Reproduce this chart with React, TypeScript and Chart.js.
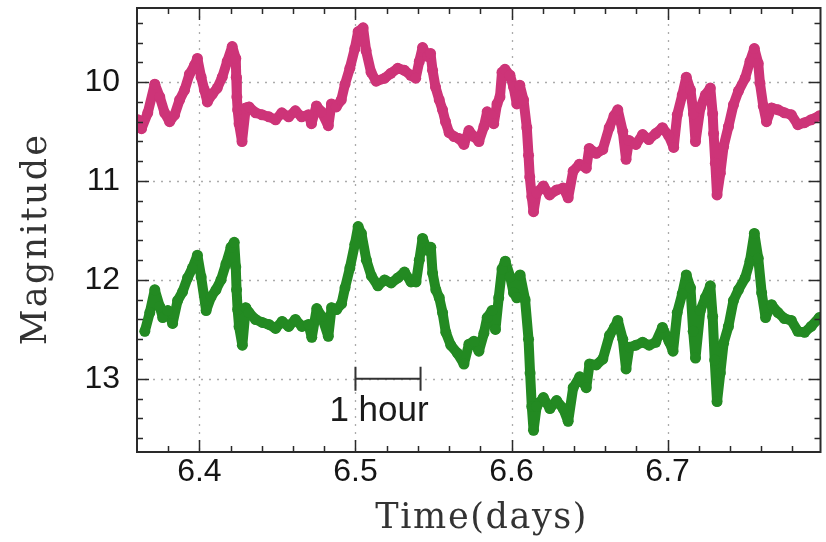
import { useEffect, useRef } from 'react';
import { Chart, registerables } from 'chart.js';

Chart.register(...registerables);

// ---- data (time in days, magnitude) ----
const pinkTime = [
  6.3605, 6.3629, 6.3669, 6.3714, 6.3746, 6.3777, 6.3809, 6.3841, 6.3873, 6.3905,
  6.3936, 6.3968, 6.3987, 6.4011, 6.4032, 6.4051, 6.4083, 6.4114, 6.4146, 6.4178,
  6.4210, 6.4233, 6.4236, 6.4240, 6.4245, 6.4254, 6.4273, 6.4297, 6.4318, 6.4360,
  6.4401, 6.4445, 6.4488, 6.4528, 6.4572, 6.4615, 6.4655, 6.4699, 6.4718, 6.4750,
  6.4782, 6.4826, 6.4846, 6.4877, 6.4909, 6.4933, 6.4964, 6.4996, 6.5017, 6.5049,
  6.5068, 6.5100, 6.5132, 6.5187, 6.5227, 6.5271, 6.5314, 6.5354, 6.5386, 6.5409,
  6.5430, 6.5462, 6.5481, 6.5494, 6.5513, 6.5537, 6.5558, 6.5577, 6.5600, 6.5632,
  6.5664, 6.5695, 6.5727, 6.5759, 6.5791, 6.5823, 6.5844, 6.5875, 6.5886, 6.5907,
  6.5926, 6.5939, 6.5958, 6.5990, 6.6013, 6.6034, 6.6053, 6.6077, 6.6098, 6.6109,
  6.6117, 6.6130, 6.6141, 6.6161, 6.6204, 6.6244, 6.6289, 6.6331, 6.6363, 6.6395,
  6.6435, 6.6479, 6.6498, 6.6543, 6.6585, 6.6626, 6.6657, 6.6681, 6.6713, 6.6734,
  6.6753, 6.6797, 6.6840, 6.6880, 6.6924, 6.6967, 6.7007, 6.7039, 6.7062, 6.7094,
  6.7120, 6.7147, 6.7166, 6.7179, 6.7210, 6.7242, 6.7274, 6.7289, 6.7295, 6.7306,
  6.7317, 6.7338, 6.7359, 6.7390, 6.7422, 6.7454, 6.7497, 6.7528, 6.7556, 6.7581,
  6.7592, 6.7613, 6.7634, 6.7666, 6.7708, 6.7749, 6.7793, 6.7835, 6.7878, 6.7920,
  6.7973,
];
const pinkMag = [
  10.38, 10.47, 10.31, 10.02, 10.15, 10.31, 10.40, 10.33, 10.18, 10.08,
  9.92, 9.83, 9.76, 9.95, 10.08, 10.20, 10.12, 10.06, 9.95, 9.79,
  9.64, 9.76, 9.95, 10.15, 10.28, 10.42, 10.60, 10.26, 10.25, 10.31,
  10.33, 10.35, 10.38, 10.31, 10.35, 10.29, 10.35, 10.33, 10.42, 10.24,
  10.30, 10.44, 10.22, 10.25, 10.18, 10.02, 9.86, 9.66, 9.49, 9.45,
  9.68, 9.90, 9.99, 9.96, 9.91, 9.86, 9.88, 9.93, 9.96, 9.79,
  9.65, 9.74, 9.71, 9.88, 10.05, 10.18, 10.28, 10.40, 10.51, 10.55,
  10.57, 10.63, 10.49, 10.55, 10.60, 10.45, 10.30, 10.34, 10.42, 10.22,
  10.15, 9.90, 9.87, 9.93, 10.05, 10.22, 10.03, 10.18, 10.46, 10.74,
  10.96, 11.16, 11.31, 11.12, 11.05, 11.14, 11.09, 11.07, 11.17, 10.90,
  10.83, 10.87, 10.67, 10.72, 10.68, 10.46, 10.34, 10.28, 10.50, 10.78,
  10.59, 10.63, 10.53, 10.58, 10.52, 10.46, 10.54, 10.66, 10.33, 10.13,
  9.95, 10.08, 10.32, 10.60, 10.26, 10.13, 10.06, 10.32, 10.52, 10.82,
  11.14, 10.92, 10.65, 10.45, 10.23, 10.09, 9.96, 9.79, 9.66, 9.81,
  10.01, 10.24, 10.40, 10.26, 10.28, 10.31, 10.33, 10.43, 10.41, 10.38,
  10.34,
];

const greenTime = [
  6.3650, 6.3682, 6.3714, 6.3746, 6.3765, 6.3797, 6.3828, 6.3860, 6.3892, 6.3924,
  6.3955, 6.3987, 6.4011, 6.4043, 6.4075, 6.4106, 6.4138, 6.4170, 6.4202, 6.4223,
  6.4233, 6.4238, 6.4245, 6.4254, 6.4275, 6.4297, 6.4318, 6.4360, 6.4403, 6.4445,
  6.4488, 6.4530, 6.4572, 6.4615, 6.4657, 6.4699, 6.4720, 6.4752, 6.4784, 6.4826,
  6.4847, 6.4879, 6.4911, 6.4933, 6.4964, 6.4996, 6.5017, 6.5038, 6.5070, 6.5102,
  6.5144, 6.5187, 6.5229, 6.5271, 6.5314, 6.5356, 6.5388, 6.5409, 6.5430, 6.5462,
  6.5483, 6.5494, 6.5515, 6.5537, 6.5558, 6.5579, 6.5611, 6.5653, 6.5695, 6.5727,
  6.5759, 6.5791, 6.5823, 6.5844, 6.5875, 6.5897, 6.5918, 6.5939, 6.5960, 6.5992,
  6.6013, 6.6034, 6.6055, 6.6087, 6.6109, 6.6119, 6.6130, 6.6141, 6.6161, 6.6204,
  6.6246, 6.6289, 6.6331, 6.6363, 6.6395, 6.6437, 6.6479, 6.6500, 6.6543, 6.6585,
  6.6628, 6.6659, 6.6681, 6.6713, 6.6734, 6.6755, 6.6797, 6.6840, 6.6882, 6.6924,
  6.6967, 6.7009, 6.7035, 6.7062, 6.7094, 6.7120, 6.7147, 6.7164, 6.7179, 6.7210,
  6.7242, 6.7274, 6.7289, 6.7302, 6.7317, 6.7338, 6.7359, 6.7390, 6.7422, 6.7454,
  6.7497, 6.7528, 6.7556, 6.7581, 6.7603, 6.7628, 6.7666, 6.7708, 6.7749, 6.7793,
  6.7835, 6.7878, 6.7920, 6.7973,
];
const greenMag = [
  12.52, 12.33, 12.10, 12.27, 12.38, 12.31, 12.44, 12.21, 12.12, 11.98,
  11.88, 11.75, 11.97, 12.31, 12.17, 12.10, 12.00, 11.84, 11.67, 11.62,
  11.87, 12.10, 12.30, 12.47, 12.66, 12.28, 12.33, 12.40, 12.43, 12.45,
  12.49, 12.42, 12.47, 12.40, 12.47, 12.45, 12.58, 12.29, 12.37, 12.57,
  12.28, 12.30, 12.24, 12.08, 11.88, 11.64, 11.46, 11.53, 11.80, 11.96,
  12.06, 12.00, 12.03, 11.98, 11.92, 12.02, 12.02, 11.80, 11.58, 11.70,
  11.67, 11.93, 12.10, 12.18, 12.33, 12.53, 12.66, 12.74, 12.85, 12.65,
  12.62, 12.72, 12.54, 12.38, 12.31, 12.50, 12.18, 11.89, 11.81, 11.97,
  12.13, 12.18, 11.95, 12.20, 12.60, 12.94, 13.28, 13.52, 13.28, 13.19,
  13.30, 13.22, 13.30, 13.43, 13.09, 12.98, 13.09, 12.85, 12.86, 12.80,
  12.56, 12.48, 12.41, 12.60, 12.90, 12.68, 12.66, 12.63, 12.66, 12.63,
  12.48, 12.62, 12.72, 12.33, 12.14, 11.95, 12.08, 12.52, 12.79, 12.31,
  12.18, 12.06, 12.37, 12.81, 13.23, 12.94, 12.64, 12.47, 12.21, 12.10,
  11.98, 11.81, 11.53, 11.78, 12.13, 12.38, 12.25, 12.33, 12.39, 12.41,
  12.52, 12.53, 12.47, 12.38,
];

// ---- axes ----
const X_MIN = 6.36;
const X_MAX = 6.798;
const Y_MIN = 9.25;
const Y_MAX = 13.74;
const xMajorTicks = [6.4, 6.5, 6.6, 6.7];
const xTickLabels = ['6.4', '6.5', '6.6', '6.7'];
const xMinorTicks = [6.38, 6.42, 6.44, 6.46, 6.48, 6.52, 6.54, 6.56, 6.58, 6.62, 6.64, 6.66, 6.68, 6.72, 6.74, 6.76, 6.78];
const yMajorTicks = [10, 11, 12, 13];
const yTickLabels = ['10', '11', '12', '13'];
const yMinorTicks = [9.4, 9.6, 9.8, 10.2, 10.4, 10.6, 10.8, 11.2, 11.4, 11.6, 11.8, 12.2, 12.4, 12.6, 12.8, 13.2, 13.4, 13.6];
const xTitle = 'Time(days)';
const yTitle = 'Magnitude';

// ---- scale bar annotation ----
const barStart = 6.5;
const barEnd = 6.5417;
const barMag = 13.0;
const barLabel = '1 hour';

const PINK = '#cd3478';
const GREEN = '#238a22';
const TICK_FONT = "'Liberation Sans', Arial, sans-serif";
const TITLE_FONT = "'DejaVu Serif', serif";

const framePlugin = {
  id: 'framePlugin',
  beforeDatasetsDraw(chart: any) {
    const { ctx, chartArea: a, scales } = chart;
    const xs = scales.x;
    const ys = scales.y;
    ctx.save();
    ctx.strokeStyle = '#ababab';
    ctx.lineWidth = 1.3;
    ctx.setLineDash([2, 6]);
    xMajorTicks.forEach((v) => {
      const px = Math.round(xs.getPixelForValue(v)) + 0.5;
      ctx.beginPath();
      ctx.moveTo(px, a.top);
      ctx.lineTo(px, a.bottom);
      ctx.stroke();
    });
    yMajorTicks.forEach((v) => {
      const py = Math.round(ys.getPixelForValue(v)) + 0.5;
      ctx.beginPath();
      ctx.moveTo(a.left, py);
      ctx.lineTo(a.right, py);
      ctx.stroke();
    });
    ctx.restore();
  },
  afterDatasetsDraw(chart: any) {
    const { ctx, chartArea: a, scales } = chart;
    const xs = scales.x;
    const ys = scales.y;
    ctx.save();
    ctx.strokeStyle = '#2a2a2a';
    ctx.lineWidth = 1.5;
    const MAJ = 12;
    const MIN = 6;
    const vTick = (v: number, len: number) => {
      const px = Math.round(xs.getPixelForValue(v)) + 0.5;
      ctx.beginPath();
      ctx.moveTo(px, a.bottom);
      ctx.lineTo(px, a.bottom - len);
      ctx.moveTo(px, a.top);
      ctx.lineTo(px, a.top + len);
      ctx.stroke();
    };
    const hTick = (v: number, len: number) => {
      const py = Math.round(ys.getPixelForValue(v)) + 0.5;
      ctx.beginPath();
      ctx.moveTo(a.left, py);
      ctx.lineTo(a.left + len, py);
      ctx.moveTo(a.right, py);
      ctx.lineTo(a.right - len, py);
      ctx.stroke();
    };
    xMajorTicks.forEach((v) => vTick(v, MAJ));
    xMinorTicks.forEach((v) => vTick(v, MIN));
    yMajorTicks.forEach((v) => hTick(v, MAJ));
    yMinorTicks.forEach((v) => hTick(v, MIN));
    ctx.lineWidth = 2;
    ctx.strokeRect(a.left, a.top, a.right - a.left, a.bottom - a.top);

    // scale bar
    const x0 = xs.getPixelForValue(barStart);
    const x1 = xs.getPixelForValue(barEnd);
    const yb = ys.getPixelForValue(barMag);
    ctx.strokeStyle = '#333';
    ctx.lineWidth = 2;
    ctx.beginPath();
    ctx.moveTo(x0, yb);
    ctx.lineTo(x1, yb);
    ctx.moveTo(x0, yb - 12);
    ctx.lineTo(x0, yb + 12);
    ctx.moveTo(x1, yb - 12);
    ctx.lineTo(x1, yb + 12);
    ctx.stroke();
    ctx.fillStyle = '#1a1a1a';
    ctx.font = `35px ${TICK_FONT}`;
    ctx.textAlign = 'center';
    ctx.textBaseline = 'alphabetic';
    ctx.fillText(barLabel, (x0 + x1) / 2 - 9, yb + 42);
    ctx.restore();

    // axis titles
    ctx.save();
    ctx.fillStyle = '#333';
    ctx.font = `35px ${TITLE_FONT}`;
    ctx.textAlign = 'center';
    try { (ctx as any).letterSpacing = '1.6px'; } catch (e) { /* ignore */ }
    ctx.textBaseline = 'alphabetic';
    ctx.fillText(xTitle, (a.left + a.right) / 2 + 3, 528);
    ctx.restore();

    ctx.save();
    ctx.fillStyle = '#333';
    ctx.font = `35px ${TITLE_FONT}`;
    ctx.textAlign = 'center';
    try { (ctx as any).letterSpacing = '2.2px'; } catch (e) { /* ignore */ }
    ctx.textBaseline = 'middle';
    ctx.translate(37, 239);
    ctx.rotate(-Math.PI / 2);
    ctx.fillText(yTitle, 0, 0);
    ctx.restore();
  },
};

export default function App() {
  const ref = useRef<HTMLCanvasElement | null>(null);
  useEffect(() => {
    if (!ref.current) return;
    const pink = pinkTime.map((t, i) => ({ x: t, y: pinkMag[i] }));
    const green = greenTime.map((t, i) => ({ x: t, y: greenMag[i] }));
    const chart = new Chart(ref.current, {
      type: 'scatter',
      data: {
        datasets: [
          {
            label: 'pink',
            data: pink,
            showLine: true,
            borderColor: PINK,
            backgroundColor: PINK,
            borderWidth: 10,
            pointRadius: 5.5,
            pointBorderWidth: 0,
            borderJoinStyle: 'round',
            borderCapStyle: 'round',
          },
          {
            label: 'green',
            data: green,
            showLine: true,
            borderColor: GREEN,
            backgroundColor: GREEN,
            borderWidth: 10,
            pointRadius: 5.5,
            pointBorderWidth: 0,
            borderJoinStyle: 'round',
            borderCapStyle: 'round',
          },
        ],
      },
      options: {
        animation: false,
        responsive: false,
        devicePixelRatio: 1,
        layout: { padding: { top: 8, right: 1, left: 0, bottom: 0 } },
        plugins: {
          legend: { display: false },
          tooltip: { enabled: false },
        },
        scales: {
          x: {
            type: 'linear',
            min: X_MIN,
            max: X_MAX,
            grid: { display: false, drawTicks: false },
            border: { display: false },
            ticks: {
              stepSize: 0.1,
              includeBounds: false,
              padding: 1,
              color: '#151515',
              font: { family: TICK_FONT, size: 32 },
              maxRotation: 0,
              callback: (v: any) => {
                const i = xMajorTicks.findIndex((m) => Math.abs(m - Number(v)) < 1e-6);
                return i >= 0 ? xTickLabels[i] : '';
              },
            },
            title: { display: false },
            afterFit: (s: any) => {
              s.height = 90;
              s.paddingLeft = 0;
              s.paddingRight = 0;
            },
          },
          y: {
            type: 'linear',
            min: Y_MIN,
            max: Y_MAX,
            reverse: true,
            grid: { display: false, drawTicks: false },
            border: { display: false },
            ticks: {
              stepSize: 1,
              includeBounds: false,
              padding: 17,
              color: '#151515',
              font: { family: TICK_FONT, size: 32 },
              callback: (v: any) => {
                const i = yMajorTicks.findIndex((m) => Math.abs(m - Number(v)) < 1e-6);
                return i >= 0 ? yTickLabels[i] : '';
              },
            },
            title: { display: false },
            afterFit: (s: any) => {
              s.width = 137;
              s.paddingTop = 0;
              s.paddingBottom = 0;
            },
          },
        },
      },
      plugins: [framePlugin],
    });
    return () => chart.destroy();
  }, []);
  return (
    <div style={{ position: 'absolute', left: 0, top: 0, width: 826, height: 542, background: '#fff' }}>
      <canvas ref={ref} width={826} height={542} style={{ width: 826, height: 542 }} />
    </div>
  );
}
